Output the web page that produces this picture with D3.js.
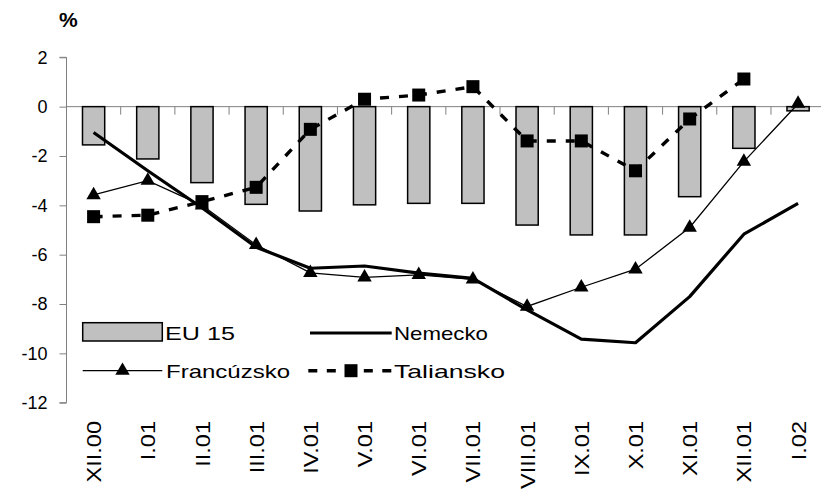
<!DOCTYPE html>
<html>
<head>
<meta charset="utf-8">
<script src="https://cdn.jsdelivr.net/npm/d3@7"></script>
<style>
  html, body { margin: 0; padding: 0; background: #fff; }
  svg { display: block; font-family: "Liberation Sans", Arial, sans-serif; }
</style>
</head>
<body>
<svg id="chart" width="821" height="489"></svg>
<script>
// Monthly categories and series (%)
const categories = ["XII.00","I.01","II.01","III.01","IV.01","V.01","VI.01","VII.01","VIII.01","IX.01","X.01","XI.01","XII.01","I.02"];
const eu15       = [-1.55,-2.12,-3.08,-3.96,-4.23,-3.98,-3.92,-3.92,-4.80,-5.20,-5.20,-3.65,-1.69,-0.17];
const nemecko    = [-1.05,-2.60,-4.10,-5.70,-6.55,-6.46,-6.75,-6.96,-8.24,-9.42,-9.57,-7.70,-5.17,-3.92];
const francuzsko = [-3.58,-3.00,-4.00,-5.60,-6.74,-6.92,-6.82,-7.00,-8.10,-7.32,-6.59,-4.90,-2.23,0.12];
const taliansko  = [-4.46,-4.40,-3.85,-3.27,-0.92,0.30,0.47,0.81,-1.39,-1.39,-2.60,-0.50,1.12,null];
const yTicks     = [2,0,-2,-4,-6,-8,-10,-12];

const svg = d3.select("#chart");
const plot = { left: 66.5, top: 57.3, bottom: 402.7 };
const step = 54.19;

const x = d3.scaleBand().domain(categories)
  .range([plot.left, plot.left + step * categories.length]).padding(0);
const y = d3.scaleLinear().domain([-12, 2]).range([plot.bottom, plot.top]);
const cx = d => x(d) + x.bandwidth() / 2;
const axisGrey = "#808080";

// Y axis
const yAxis = svg.append("g")
  .attr("transform", `translate(${plot.left},0)`)
  .call(d3.axisLeft(y).tickValues(yTicks).tickSize(7).tickPadding(12).tickFormat(d3.format("d")));
yAxis.select(".domain").attr("stroke", axisGrey).attr("d", `M-7,${y(2)}H0V${y(-12)}H-7`);
yAxis.selectAll(".tick line").attr("stroke", axisGrey);
yAxis.selectAll(".tick text")
  .attr("fill", "#000").attr("font-size", 18)
  .attr("font-family", "'Liberation Sans', Arial, sans-serif")
  .text(d => d < 0 ? "-" + Math.abs(d) : d);

// Zero line with category ticks on band boundaries
const xAxis = svg.append("g").attr("transform", `translate(0,${y(0)})`)
  .call(d3.axisBottom(x).tickSize(0).tickFormat(""));
xAxis.select(".domain").attr("stroke", axisGrey).attr("d", `M${plot.left},0H821`);
xAxis.selectAll(".tick").remove();
xAxis.selectAll("line.sep")
  .data(categories.slice(1))
  .join("line")
  .attr("class", "sep")
  .attr("x1", d => x(d)).attr("x2", d => x(d))
  .attr("y1", 0).attr("y2", 8)
  .attr("stroke", axisGrey);

// Category labels (rotated)
svg.append("g").selectAll("text")
  .data(categories)
  .join("text")
  .attr("transform", d => `translate(${cx(d)},421) rotate(-90) scale(1.12,1)`)
  .attr("text-anchor", "end")
  .attr("dy", "0.36em")
  .attr("font-size", 21)
  .text(d => d);

// EU 15 bars
const barW = x.bandwidth() * 0.41;
svg.append("g").selectAll("rect")
  .data(eu15)
  .join("rect")
  .attr("x", (d, i) => cx(categories[i]) - barW / 2)
  .attr("y", d => y(Math.max(0, d)))
  .attr("width", barW)
  .attr("height", d => Math.abs(y(d) - y(0)))
  .attr("fill", "#c0c0c0")
  .attr("stroke", "#000")
  .attr("stroke-width", 1.5);

const line = d3.line()
  .defined(d => d != null)
  .x((d, i) => cx(categories[i]))
  .y(d => y(d));

// Nemecko
svg.append("path").datum(nemecko)
  .attr("d", line).attr("fill", "none")
  .attr("stroke", "#000").attr("stroke-width", 3.2).attr("stroke-linejoin", "round");

// Francúzsko
svg.append("path").datum(francuzsko)
  .attr("d", line).attr("fill", "none")
  .attr("stroke", "#000").attr("stroke-width", 1.3);
const tri = d3.symbol().type(d3.symbolTriangle).size(90);
svg.append("g").selectAll("path")
  .data(francuzsko)
  .join("path")
  .attr("d", tri)
  .attr("transform", (d, i) => `translate(${cx(categories[i])},${y(d)})`)
  .attr("fill", "#000");

// Taliansko
svg.append("path").datum(taliansko)
  .attr("d", line).attr("fill", "none")
  .attr("stroke", "#000").attr("stroke-width", 3.4).attr("stroke-dasharray", "9,10");
const sq = 13;
svg.append("g").selectAll("rect")
  .data(taliansko.map((v, i) => ({ v, c: categories[i] })).filter(d => d.v != null))
  .join("rect")
  .attr("x", d => cx(d.c) - sq / 2)
  .attr("y", d => y(d.v) - sq / 2)
  .attr("width", sq).attr("height", sq)
  .attr("fill", "#000");

// Unit label
svg.append("text")
  .attr("x", 59).attr("y", 27)
  .attr("font-size", 21).attr("font-weight", "bold")
  .text("%");

// Legend
const legend = svg.append("g");
legend.append("rect")
  .attr("x", 82.7).attr("y", 322.7).attr("width", 79.6).attr("height", 18.3)
  .attr("fill", "#c0c0c0").attr("stroke", "#000").attr("stroke-width", 1.5);
legend.append("line")
  .attr("x1", 310).attr("x2", 391.7).attr("y1", 333).attr("y2", 333)
  .attr("stroke", "#000").attr("stroke-width", 3.2);
legend.append("line")
  .attr("x1", 82.7).attr("x2", 162.3).attr("y1", 370.7).attr("y2", 370.7)
  .attr("stroke", "#000").attr("stroke-width", 1.3);
legend.append("path").attr("d", tri).attr("transform", "translate(122.5,370.7)").attr("fill", "#000");
legend.append("line")
  .attr("x1", 308.3).attr("x2", 392).attr("y1", 370.7).attr("y2", 370.7)
  .attr("stroke", "#000").attr("stroke-width", 3.4).attr("stroke-dasharray", "9,9.5");
legend.append("rect")
  .attr("x", 351 - sq / 2).attr("y", 370.7 - sq / 2).attr("width", sq).attr("height", sq).attr("fill", "#000");

const legendText = [
  { t: "EU 15", x: 165, y: 340, w: 70 },
  { t: "Nemecko", x: 394, y: 340, w: 94 },
  { t: "Francúzsko", x: 166, y: 378, w: 124 },
  { t: "Taliansko", x: 394, y: 378, w: 111 }
];
legend.selectAll("text.lbl")
  .data(legendText)
  .join("text")
  .attr("class", "lbl")
  .attr("x", d => d.x).attr("y", d => d.y)
  .attr("font-size", 19)
  .attr("textLength", d => d.w)
  .attr("lengthAdjust", "spacingAndGlyphs")
  .text(d => d.t);
</script>
</body>
</html>
